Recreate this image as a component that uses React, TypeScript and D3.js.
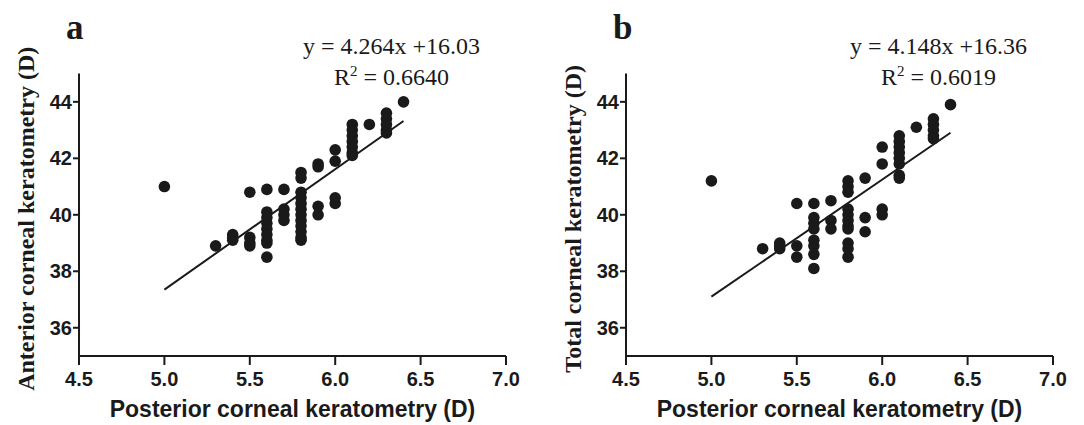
import React from 'react';
import * as d3 from 'd3';

// axis ticks
const xTicks = [4.5, 5.0, 5.5, 6.0, 6.5, 7.0];
const yTicks = [36, 38, 40, 42, 44];

// posterior corneal keratometry, one entry per column of dots
const columnX = [5.0, 5.3, 5.4, 5.5, 5.6, 5.7, 5.8, 5.9, 6.0, 6.1, 6.2, 6.3, 6.4];

// panel a: anterior corneal keratometry for each column
const anteriorK = [
  [41.0],
  [38.9],
  [39.3, 39.2, 39.1],
  [40.8, 39.2, 39.0, 38.9],
  [40.9, 40.1, 39.9, 39.7, 39.5, 39.3, 39.1, 39.0, 38.5],
  [40.9, 40.2, 40.0, 39.8],
  [41.5, 41.3, 40.8, 40.6, 40.4, 40.2, 40.0, 39.8, 39.6, 39.4, 39.2, 39.1],
  [41.8, 41.7, 40.3, 40.0],
  [42.3, 41.9, 40.6, 40.4],
  [43.2, 43.0, 42.8, 42.6, 42.4, 42.2, 42.1],
  [43.2],
  [43.6, 43.4, 43.2, 43.0, 42.9],
  [44.0],
];

// panel b: total corneal keratometry for each column
const totalK = [
  [41.2],
  [38.8],
  [39.0, 38.9, 38.8],
  [40.4, 38.9, 38.5],
  [40.4, 39.9, 39.7, 39.5, 39.1, 38.9, 38.6, 38.1],
  [40.5, 39.8, 39.5],
  [41.2, 41.0, 40.8, 40.2, 40.0, 39.8, 39.6, 39.5, 39.0, 38.8, 38.5],
  [41.3, 39.9, 39.4],
  [42.4, 41.8, 40.2, 40.0],
  [42.8, 42.6, 42.4, 42.2, 42.0, 41.8, 41.4, 41.3],
  [43.1],
  [43.4, 43.2, 43.0, 42.8, 42.7],
  [43.9],
];

const slopes = [4.264, 4.148];
const intercepts = [16.03, 16.36];
const rSquared = ['0.6640', '0.6019'];
const letters = ['a', 'b'];
const yTitles = ['Anterior corneal keratometry (D)', 'Total corneal keratometry (D)'];
const xTitle = 'Posterior corneal keratometry (D)';

const ink = '#1a1a1a';
const sans = '"Liberation Sans", Arial, sans-serif';
const serif = '"Liberation Serif", "Times New Roman", serif';

const yScale = d3.scaleLinear().domain([35, 45]).range([356, 73.6]);

const Panel = ({ idx, left }: { idx: number; left: number }) => {
  const x = d3.scaleLinear().domain([4.5, 7.0]).range([left, left + 427]);
  const y = yScale;
  const values = idx === 0 ? anteriorK : totalK;
  const pts = columnX.flatMap((cx, i) => values[i].map((v) => [cx, v]));
  const xMin = d3.min(columnX)!;
  const xMax = d3.max(columnX)!;
  const fit = (v: number) => slopes[idx] * v + intercepts[idx];
  const line = d3.line<number>().x((d) => x(d)).y((d) => y(fit(d)));
  const x0 = x(4.5);
  const y0 = y(35);
  const midY = (y(35) + y(45)) / 2 + 4;
  const eqX = x(6.33);

  return (
    <g>
      {/* axes */}
      <line x1={x0} x2={x0} y1={y(45)} y2={y0} stroke={ink} strokeWidth={2} />
      <line x1={x0} x2={x(7.0)} y1={y0} y2={y0} stroke={ink} strokeWidth={2} />
      {xTicks.map((t) => (
        <g key={t}>
          <line x1={x(t)} x2={x(t)} y1={y0} y2={y0 + 9} stroke={ink} strokeWidth={2} />
          <text x={x(t)} y={y0 + 30} textAnchor="middle" fontFamily={sans} fontWeight="bold" fontSize={20} fill={ink}>
            {t.toFixed(1)}
          </text>
        </g>
      ))}
      {yTicks.map((t) => (
        <g key={t}>
          <line x1={x0 - 6} x2={x0} y1={y(t)} y2={y(t)} stroke={ink} strokeWidth={2} />
          <text x={x0 - 7} y={y(t) + 7} textAnchor="end" fontFamily={sans} fontWeight="bold" fontSize={20} fill={ink}>
            {t}
          </text>
        </g>
      ))}
      <text x={(x0 + x(7.0)) / 2} y={417} textAnchor="middle" fontFamily={sans} fontWeight="bold" fontSize={23} fill={ink}>
        {xTitle}
      </text>
      <text
        transform={`translate(${x0 - 45}, ${midY}) rotate(-90)`}
        textAnchor="middle"
        fontFamily={serif}
        fontWeight="bold"
        fontSize={24}
        fill={ink}
      >
        {yTitles[idx]}
      </text>
      <text x={x0 - 13} y={39} fontFamily={serif} fontWeight="bold" fontSize={35} fill={ink}>
        {letters[idx]}
      </text>

      {/* fit */}
      <path d={line([xMin, xMax])!} fill="none" stroke={ink} strokeWidth={2} />
      {pts.map(([px, py], i) => (
        <circle key={i} cx={x(px)} cy={y(py)} r={5.8} fill={ink} />
      ))}

      <text x={eqX} y={54} textAnchor="middle" fontFamily={serif} fontSize={24} fill={ink}>
        {`y = ${slopes[idx]}x +${intercepts[idx]}`}
      </text>
      <text x={eqX} y={85} textAnchor="middle" fontFamily={serif} fontSize={24} fill={ink}>
        R<tspan dy={-9} fontSize={15}>2</tspan>
        <tspan dy={9}>{` = ${rSquared[idx]}`}</tspan>
      </text>
    </g>
  );
};

export default function App() {
  return (
    <svg
      width={1084}
      height={425}
      style={{ position: 'absolute', left: 0, top: 0, background: '#fff' }}
    >
      <Panel idx={0} left={79} />
      <Panel idx={1} left={626} />
    </svg>
  );
}
